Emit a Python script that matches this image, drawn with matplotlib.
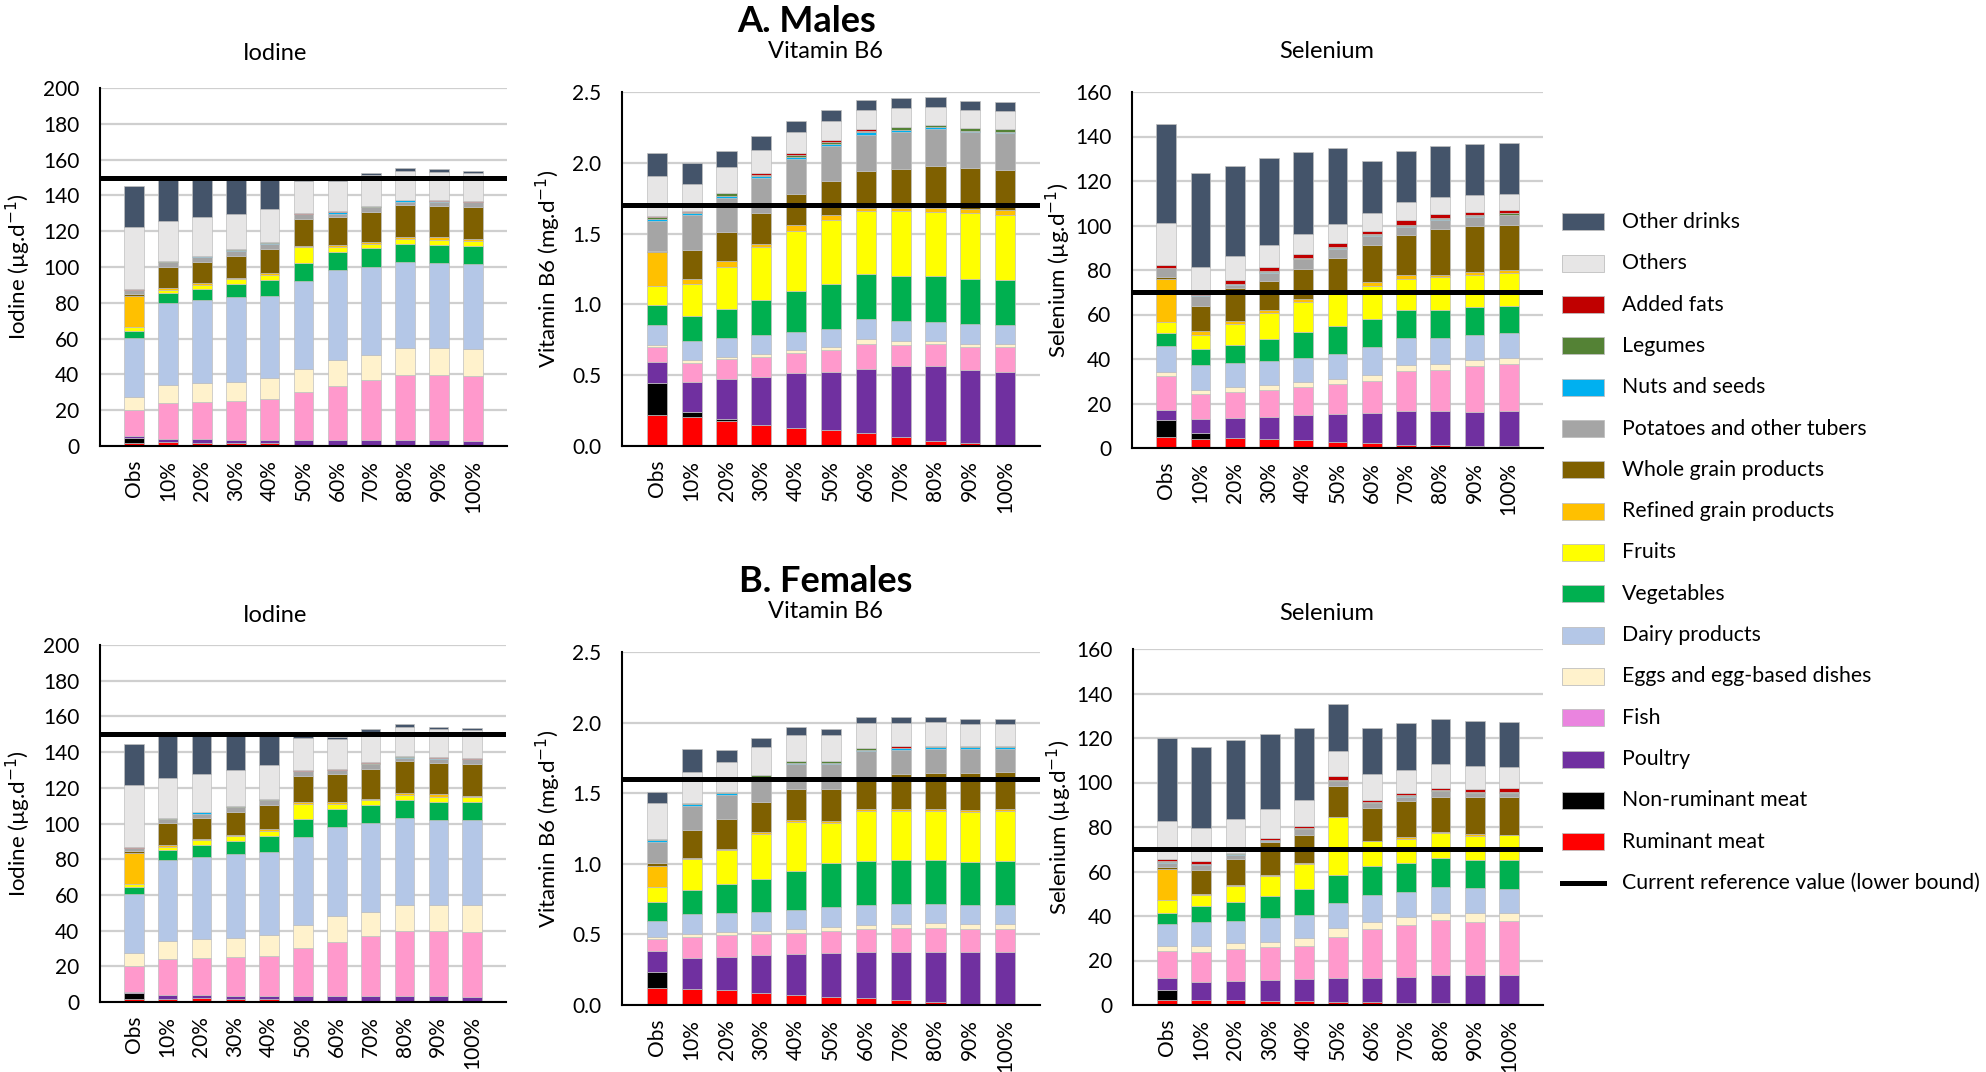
import matplotlib
matplotlib.use('Agg')
import matplotlib.pyplot as plt
from matplotlib.patches import Rectangle
from matplotlib.lines import Line2D
import numpy as np

plt.rcParams['font.family'] = ['Lato', 'DejaVu Sans']

scenarios = ['Obs', '10%', '20%', '30%', '40%', '50%', '60%', '70%', '80%', '90%', '100%']

# stacking order, bottom to top
categories = ['Ruminant meat', 'Non-ruminant meat', 'Poultry', 'Fish',
              'Eggs and egg-based dishes', 'Dairy products', 'Vegetables', 'Fruits',
              'Refined grain products', 'Whole grain products', 'Potatoes and other tubers',
              'Nuts and seeds', 'Legumes', 'Added fats', 'Others', 'Other drinks']
colors = ['#FF0000', '#000000', '#7030A0', '#FF99CC', '#FFF2CC', '#B4C7E7', '#00B050',
          '#FFFF00', '#FFC000', '#7F6000', '#A5A5A5', '#00B0F0', '#548235', '#C00000',
          '#E7E6E6', '#44546A']
legend_colors = colors[:3] + ['#EA84DF'] + colors[4:]

# ---- A. Males ----
males_iodine = [
    [1.5, 2.0, 1.5, 1.5, 1.5, 0.8, 0.8, 0.6, 0.3, 0.3, 0.2],
    [3.0, 0.2, 0.1, 0.1, 0.1, 0.0, 0.0, 0.0, 0.0, 0.0, 0.0],
    [1.0, 1.7, 2.3, 1.8, 1.8, 2.4, 2.4, 2.8, 3.1, 3.1, 2.6],
    [14.6, 20.1, 20.8, 21.9, 22.6, 27.1, 30.5, 33.3, 36.5, 36.5, 36.5],
    [7.5, 10.3, 10.7, 10.7, 11.8, 12.6, 14.2, 13.9, 14.6, 14.6, 14.8],
    [32.8, 45.5, 46.2, 47.0, 46.1, 49.4, 50.4, 49.6, 48.5, 47.9, 47.8],
    [4.1, 5.6, 6.2, 7.3, 9.0, 10.1, 9.9, 10.3, 10.1, 10.1, 10.1],
    [1.9, 1.7, 2.3, 2.8, 2.8, 8.5, 2.8, 2.6, 2.6, 2.7, 2.8],
    [17.4, 1.1, 1.1, 0.5, 1.1, 1.1, 1.2, 0.8, 1.3, 1.3, 0.6],
    [1.1, 12.0, 11.8, 12.8, 13.3, 14.8, 15.7, 16.8, 17.8, 17.6, 17.9],
    [2.1, 2.4, 2.8, 2.8, 3.0, 2.6, 1.9, 2.6, 1.7, 2.4, 2.8],
    [0.1, 0.4, 0.1, 0.1, 0.1, 0.1, 0.7, 0.2, 1.0, 0.2, 0.1],
    [0.1, 0.1, 0.4, 0.5, 0.6, 0.1, 0.1, 0.6, 0.1, 0.1, 0.1],
    [0.4, 0.5, 0.1, 0.1, 0.1, 0.5, 0.6, 0.1, 0.1, 0.5, 0.6],
    [34.7, 21.9, 21.4, 19.9, 18.7, 17.9, 16.8, 17.2, 16.0, 15.9, 15.4],
    [22.8, 24.0, 21.6, 19.9, 17.1, 0.8, 0.8, 1.3, 1.7, 1.3, 1.1],
]
males_b6 = [
    [0.217, 0.207, 0.179, 0.151, 0.130, 0.111, 0.090, 0.066, 0.038, 0.019, 0.005],
    [0.226, 0.031, 0.010, 0.0, 0.0, 0.0, 0.0, 0.0, 0.0, 0.0, 0.005],
    [0.148, 0.212, 0.282, 0.334, 0.384, 0.414, 0.452, 0.497, 0.525, 0.516, 0.515],
    [0.111, 0.139, 0.142, 0.144, 0.141, 0.151, 0.181, 0.153, 0.158, 0.162, 0.175],
    [0.012, 0.017, 0.014, 0.019, 0.021, 0.021, 0.031, 0.022, 0.019, 0.026, 0.021],
    [0.139, 0.134, 0.136, 0.134, 0.128, 0.130, 0.141, 0.143, 0.134, 0.137, 0.132],
    [0.141, 0.179, 0.205, 0.250, 0.292, 0.318, 0.321, 0.321, 0.328, 0.321, 0.320],
    [0.137, 0.226, 0.297, 0.370, 0.424, 0.453, 0.445, 0.459, 0.452, 0.461, 0.460],
    [0.236, 0.036, 0.038, 0.028, 0.038, 0.035, 0.017, 0.017, 0.024, 0.031, 0.031],
    [0.011, 0.205, 0.205, 0.217, 0.219, 0.236, 0.264, 0.275, 0.297, 0.287, 0.282],
    [0.212, 0.242, 0.240, 0.243, 0.252, 0.252, 0.256, 0.262, 0.261, 0.255, 0.262],
    [0.014, 0.014, 0.017, 0.016, 0.014, 0.014, 0.017, 0.014, 0.014, 0.012, 0.012],
    [0.014, 0.010, 0.019, 0.010, 0.014, 0.014, 0.012, 0.021, 0.017, 0.019, 0.016],
    [0.003, 0.009, 0.0, 0.009, 0.012, 0.012, 0.012, 0.002, 0.0, 0.0, 0.0],
    [0.285, 0.186, 0.186, 0.165, 0.148, 0.134, 0.131, 0.137, 0.127, 0.129, 0.127],
    [0.162, 0.149, 0.113, 0.099, 0.078, 0.078, 0.073, 0.066, 0.071, 0.061, 0.064],
]
males_selenium = [
    [4.8, 3.9, 4.3, 3.9, 3.4, 2.5, 2.1, 1.5, 1.2, 0.7, 0.2],
    [7.6, 2.7, 0.3, 0.0, 0.0, 0.0, 0.0, 0.0, 0.0, 0.0, 0.8],
    [4.5, 6.3, 8.7, 9.9, 11.3, 12.6, 13.6, 15.3, 15.6, 15.5, 15.8],
    [15.3, 11.2, 11.9, 12.1, 12.6, 13.7, 14.3, 17.7, 18.4, 20.8, 21.0],
    [2.0, 2.1, 2.2, 2.3, 2.4, 2.2, 2.7, 2.8, 2.7, 2.6, 2.6],
    [11.6, 11.1, 10.8, 10.8, 10.7, 11.1, 12.7, 12.3, 11.7, 11.2, 11.3],
    [5.9, 7.2, 8.1, 10.0, 11.7, 12.7, 12.7, 12.6, 12.6, 12.7, 12.3],
    [4.9, 6.3, 9.6, 11.7, 13.7, 16.1, 14.9, 13.9, 14.5, 14.4, 14.5],
    [19.5, 1.8, 1.3, 1.5, 1.3, 0.3, 1.8, 1.8, 1.2, 1.4, 1.6],
    [0.9, 11.4, 14.6, 13.0, 13.5, 14.3, 16.3, 18.0, 20.4, 20.3, 20.3],
    [3.7, 4.2, 1.5, 3.5, 4.3, 4.1, 4.0, 3.4, 4.3, 4.4, 4.2],
    [0.1, 0.4, 0.3, 0.6, 0.1, 0.1, 0.6, 0.6, 0.1, 0.4, 0.3],
    [0.1, 0.3, 0.2, 0.2, 0.5, 0.6, 0.3, 0.3, 0.5, 0.2, 0.6],
    [1.5, 0.2, 1.9, 1.8, 1.9, 1.8, 1.7, 2.1, 1.8, 1.6, 1.3],
    [18.9, 12.4, 10.7, 10.1, 8.6, 8.4, 7.8, 8.1, 7.9, 7.4, 7.2],
    [44.3, 41.9, 40.2, 38.8, 37.0, 34.3, 23.3, 23.1, 22.9, 22.9, 22.9],
]

# ---- B. Females ----
females_iodine = [
    [1.7, 1.7, 2.0, 1.5, 1.5, 0.8, 0.8, 0.6, 0.3, 0.2, 0.2],
    [3.5, 0.1, 0.1, 0.1, 0.1, 0.0, 0.0, 0.0, 0.0, 0.6, 0.0],
    [0.6, 2.0, 1.9, 1.8, 1.8, 2.4, 2.4, 2.8, 3.1, 2.4, 2.6],
    [14.2, 20.4, 20.7, 21.9, 22.6, 27.1, 30.5, 33.3, 36.5, 36.5, 36.5],
    [7.4, 10.0, 10.7, 10.7, 11.8, 12.6, 14.2, 13.9, 14.6, 14.6, 14.8],
    [33.0, 45.6, 46.0, 47.0, 46.1, 49.4, 50.4, 49.6, 48.5, 47.9, 47.8],
    [4.2, 5.6, 6.8, 7.3, 9.0, 10.1, 9.9, 10.3, 10.1, 10.1, 10.1],
    [1.6, 1.5, 2.4, 2.8, 2.8, 8.5, 2.8, 2.6, 2.6, 2.7, 2.8],
    [17.4, 1.1, 0.9, 0.5, 1.1, 1.1, 1.2, 0.8, 1.3, 1.3, 0.6],
    [0.9, 12.1, 11.8, 12.8, 13.3, 14.8, 15.7, 16.8, 17.8, 17.6, 17.9],
    [1.7, 2.6, 2.2, 2.8, 3.0, 2.6, 1.9, 2.6, 1.7, 2.4, 2.8],
    [0.1, 0.1, 0.8, 0.1, 0.1, 0.1, 0.2, 0.2, 1.0, 0.2, 0.1],
    [0.1, 0.1, 0.1, 0.5, 0.6, 0.1, 0.1, 0.6, 0.1, 0.1, 0.1],
    [0.3, 0.4, 0.1, 0.1, 0.1, 0.5, 0.6, 0.1, 0.3, 0.5, 0.6],
    [34.7, 22.0, 21.2, 19.9, 18.7, 17.9, 16.8, 17.2, 16.0, 15.9, 15.4],
    [23.0, 24.3, 22.1, 19.9, 17.1, 0.8, 0.8, 1.3, 1.7, 1.3, 1.1],
]
females_b6 = [
    [0.123, 0.111, 0.104, 0.087, 0.071, 0.059, 0.052, 0.038, 0.024, 0.005, 0.003],
    [0.113, 0.0, 0.0, 0.0, 0.0, 0.0, 0.0, 0.0, 0.0, 0.0, 0.0],
    [0.148, 0.224, 0.238, 0.264, 0.287, 0.307, 0.321, 0.339, 0.353, 0.368, 0.370],
    [0.081, 0.148, 0.151, 0.149, 0.149, 0.155, 0.162, 0.165, 0.165, 0.162, 0.162],
    [0.014, 0.022, 0.026, 0.026, 0.028, 0.029, 0.029, 0.031, 0.036, 0.036, 0.036],
    [0.118, 0.137, 0.130, 0.130, 0.135, 0.143, 0.141, 0.139, 0.134, 0.134, 0.134],
    [0.129, 0.172, 0.205, 0.233, 0.278, 0.312, 0.314, 0.314, 0.314, 0.307, 0.314],
    [0.109, 0.217, 0.247, 0.323, 0.349, 0.285, 0.358, 0.351, 0.349, 0.356, 0.356],
    [0.151, 0.007, 0.007, 0.014, 0.012, 0.014, 0.010, 0.012, 0.014, 0.012, 0.014],
    [0.023, 0.200, 0.208, 0.210, 0.219, 0.224, 0.214, 0.248, 0.253, 0.262, 0.260],
    [0.144, 0.172, 0.172, 0.180, 0.180, 0.180, 0.199, 0.170, 0.172, 0.174, 0.167],
    [0.014, 0.017, 0.010, 0.002, 0.007, 0.007, 0.009, 0.014, 0.011, 0.009, 0.012],
    [0.008, 0.003, 0.009, 0.009, 0.011, 0.011, 0.012, 0.002, 0.008, 0.010, 0.007],
    [0.0, 0.0, 0.0, 0.0, 0.0, 0.0, 0.0, 0.012, 0.0, 0.0, 0.0],
    [0.257, 0.219, 0.212, 0.201, 0.187, 0.187, 0.179, 0.165, 0.172, 0.156, 0.156],
    [0.080, 0.165, 0.085, 0.066, 0.056, 0.045, 0.040, 0.040, 0.035, 0.035, 0.035],
]
females_selenium = [
    [2.4, 2.4, 2.4, 1.9, 1.9, 1.5, 1.5, 0.9, 0.9, 0.5, 0.3],
    [4.5, 0.0, 0.0, 0.0, 0.0, 0.0, 0.0, 0.0, 0.0, 0.0, 0.0],
    [5.4, 7.8, 8.5, 9.5, 9.6, 10.8, 10.8, 11.8, 12.4, 12.8, 13.0],
    [12.1, 13.8, 14.1, 14.5, 15.2, 18.4, 21.7, 23.3, 24.9, 24.2, 24.3],
    [2.0, 2.4, 2.7, 2.6, 3.3, 3.8, 3.5, 3.4, 3.3, 4.0, 3.6],
    [9.9, 10.8, 10.2, 10.5, 10.3, 11.2, 11.8, 11.3, 11.6, 11.0, 11.0],
    [5.2, 7.2, 8.6, 9.9, 11.7, 12.6, 13.1, 13.0, 13.0, 12.7, 13.0],
    [5.6, 4.9, 7.2, 9.3, 11.3, 26.1, 11.1, 11.1, 11.1, 10.8, 11.0],
    [14.1, 0.8, 0.4, 0.4, 0.4, 0.3, 0.4, 0.8, 0.6, 0.9, 0.4],
    [1.0, 10.6, 11.6, 14.7, 12.8, 13.8, 14.7, 15.9, 15.9, 16.4, 16.7],
    [1.7, 2.3, 1.9, 0.6, 2.5, 2.2, 2.3, 2.2, 2.3, 2.1, 1.9],
    [0.4, 0.2, 0.1, 0.1, 0.1, 0.1, 0.1, 0.1, 0.3, 0.1, 0.1],
    [0.2, 0.2, 0.5, 0.1, 0.3, 0.4, 0.4, 0.5, 0.2, 0.4, 0.5],
    [1.0, 1.2, 0.2, 0.8, 1.1, 1.5, 0.9, 0.9, 1.0, 1.4, 1.6],
    [17.3, 14.9, 15.2, 13.0, 11.8, 11.4, 11.3, 10.6, 10.6, 10.0, 9.5],
    [37.0, 36.6, 35.4, 33.9, 32.1, 21.1, 20.8, 20.9, 20.4, 20.4, 20.4],
]

ref_iodine = 150
ref_b6_males = 1.7
ref_b6_females = 1.6
ref_selenium = 70

W, H = 1986, 1072
fig = plt.figure(figsize=(W / 100, H / 100), dpi=100)


def px_axes(left, top, right, bottom):
    return fig.add_axes([left / W, 1 - bottom / H, (right - left) / W, (bottom - top) / H])


panels = [
    (males_iodine, ref_iodine, (0, 200), np.arange(0, 201, 20), '{:.0f}', 'Iodine (µg.d$^{-1}$)', (100, 88, 507, 446), -0.165),
    (males_b6, ref_b6_males, (0, 2.5), np.arange(0, 2.51, 0.5), '{:.1f}', 'Vitamin B6 (mg.d$^{-1}$)', (622, 92, 1040, 446), -0.141),
    (males_selenium, ref_selenium, (0, 160), np.arange(0, 161, 20), '{:.0f}', 'Selenium (µg.d$^{-1}$)', (1132, 92, 1543, 448), -0.144),
    (females_iodine, ref_iodine, (0, 200), np.arange(0, 201, 20), '{:.0f}', 'Iodine (µg.d$^{-1}$)', (100, 645, 506, 1002), -0.165),
    (females_b6, ref_b6_females, (0, 2.5), np.arange(0, 2.51, 0.5), '{:.1f}', 'Vitamin B6 (mg.d$^{-1}$)', (622, 652, 1040, 1005), -0.141),
    (females_selenium, ref_selenium, (0, 160), np.arange(0, 161, 20), '{:.0f}', 'Selenium (µg.d$^{-1}$)', (1133, 649, 1543, 1005), -0.144),
]

x = np.arange(len(scenarios))
for data, ref, ylim, yticks, fmt, ylabel, box, labx in panels:
    ax = px_axes(*box)
    bottom = np.zeros(len(scenarios))
    for vals, col in zip(data, colors):
        vals = np.array(vals)
        ax.bar(x, vals, width=0.58, bottom=bottom, color=col, edgecolor='#BFBFBF',
               linewidth=0.5, zorder=2)
        bottom += vals
    ax.axhline(ref, color='black', lw=3.6, zorder=5)
    ax.set_xlim(-1, 11)
    ax.set_ylim(*ylim)
    ax.set_yticks(yticks)
    ax.set_yticklabels([fmt.format(v) for v in yticks], fontsize=15)
    ax.set_xticks(x)
    ax.set_xticklabels(scenarios, rotation=90, fontsize=15)
    ax.tick_params(axis='both', length=0)
    ax.tick_params(axis='y', pad=15)
    ax.tick_params(axis='x', pad=10)
    ax.yaxis.grid(True, color='#CFCFCF', lw=1.6, zorder=0)
    ax.set_axisbelow(True)
    for s in ['top', 'right']:
        ax.spines[s].set_visible(False)
    ax.spines['left'].set_linewidth(1.5)
    ax.spines['bottom'].set_linewidth(1.5)
    ax.set_ylabel(ylabel, fontsize=16)
    ax.yaxis.set_label_coords(labx, 0.5)

# Titles
def ftext(xp, yp, s, **kw):
    fig.text(xp / W, 1 - yp / H, s, ha='center', va='center', **kw)

ftext(807, 22, 'A. Males', fontsize=26, fontweight='bold')
ftext(826, 581, 'B. Females', fontsize=26, fontweight='bold')
for yrow in (54, 615):
    ftext(275, yrow, 'Iodine', fontsize=17)
    ftext(825, yrow - 3, 'Vitamin B6', fontsize=17)
    ftext(1327, yrow - 2, 'Selenium', fontsize=17)

# Legend (top to bottom, reverse of stacking)
row0 = 222
step = (883 - 222) / len(categories)
for i, (lab, col) in enumerate(zip(categories[::-1], legend_colors[::-1])):
    yc = row0 + i * step
    fig.add_artist(Rectangle((1562 / W, 1 - (yc + 8.5) / H), 42 / W, 17 / H,
                             transform=fig.transFigure, facecolor=col,
                             edgecolor='#BFBFBF', linewidth=0.6))
    fig.text(1622 / W, 1 - yc / H, lab, ha='left', va='center', fontsize=15.3)
yc = row0 + len(categories) * step
fig.add_artist(Line2D([1562 / W, 1604 / W], [1 - yc / H, 1 - yc / H],
                      transform=fig.transFigure, color='black', lw=3.6))
fig.text(1622 / W, 1 - yc / H, 'Current reference value (lower bound)', ha='left',
         va='center', fontsize=15.3)

fig.savefig('out.png', dpi=100, facecolor='white')
